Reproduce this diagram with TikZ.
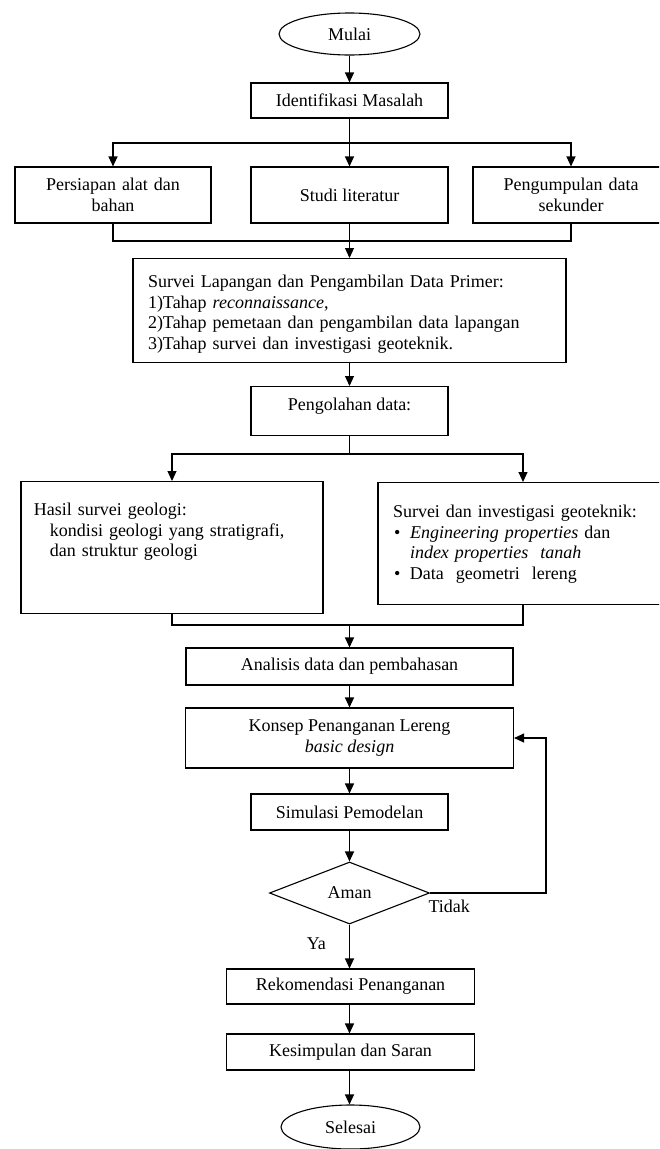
\documentclass[tikz,border=0pt]{standalone}
\usepackage{fontspec}
\setmainfont{Liberation Serif}
\usetikzlibrary{arrows.meta,shapes.geometric}

\tikzset{
    kotak/.style={draw, line width=1.1pt, rectangle, inner sep=2pt, align=center},
    ujung/.style={draw, line width=1.1pt, ellipse, inner sep=0pt},
    pilih/.style={draw, line width=1.1pt, diamond, inner sep=0pt},
    garis/.style={line width=1.1pt, black},
    teks/.style={inner sep=1pt},
    panah/.style={->, garis}
}

\begin{document}
\begin{tikzpicture}[x=1pt, y=-1pt, >={Triangle[length=10pt,width=9pt]},
    font=\fontsize{18}{20.5}\selectfont]
    \useasboundingbox (0,0) rectangle (659,1149);
    \clip (0,0) rectangle (659,1149);

    % Mulai
    \node [ujung, minimum width=141, minimum height=42] (mulai) at (349.5,34) {Mulai};
    \node [kotak, minimum width=197, minimum height=35] (ident) at (349.5,100.5) {Identifikasi Masalah};

    % Tiga cabang
    \node [kotak, minimum width=196, minimum height=56, text width=180] (persiapan) at (113,195) {Persiapan alat dan\\bahan};
    \node [kotak, minimum width=197, minimum height=56] (studi) at (349.5,195) {Studi literatur};
    \node [kotak, minimum width=196, minimum height=56, text width=180] (pengumpulan) at (571,195) {Pengumpulan data\\sekunder};

    \coordinate (bagi1) at (349.5,143);
    \coordinate (gabung1) at (349.5,241);

    \draw [garis] (ident.south) -- (bagi1);
    \draw [panah] (bagi1) -| (persiapan.north);
    \draw [panah] (bagi1) -| (pengumpulan.north);
    \draw [panah] (bagi1) -- (studi.north);
    \draw [garis] (persiapan.south) |- (gabung1) -| (pengumpulan.south);
    \draw [garis] (studi.south) -- (gabung1);

    % Survei lapangan
    \node [kotak, anchor=north, align=left, text width=403, inner xsep=15pt, inner ysep=0pt,
        text height=29pt, text depth=75pt] (survei) at (349.5,258)
        {Survei Lapangan dan Pengambilan Data Primer:\\
        1)Tahap \textit{reconnaissance},\\
        2)Tahap pemetaan dan pengambilan data lapangan\\
        3)Tahap survei dan investigasi geoteknik.};
    \draw [panah] (gabung1) -- (survei.north);

    \node [kotak, anchor=north, minimum width=197, inner ysep=0pt,
        text height=24pt, text depth=25pt] (olah) at (349.5,386) {Pengolahan data:};
    \draw [panah] (survei.south) -- (olah.north);

    % Dua hasil
    \node [kotak, anchor=north, align=left, text width=276, inner xsep=13pt, inner ysep=0pt,
        text height=34pt, text depth=98pt] (hasil) at (172,481)
        {Hasil survei geologi:\\
        \hspace*{16pt}kondisi geologi yang stratigrafi,\\
        \hspace*{16pt}dan struktur geologi};
    \node [kotak, anchor=north, align=left, text width=260, inner xsep=15pt, inner ysep=0pt,
        text height=35pt, text depth=87pt] (geotek) at (523,482)
        {Survei dan investigasi geoteknik:\\
        \makebox[17pt][l]{\hspace*{1pt}\textbullet}\textit{Engineering properties} dan\\
        \hspace*{17pt}\textit{index properties\ \ tanah}\\
        \makebox[17pt][l]{\hspace*{1pt}\textbullet}Data\ \ geometri\ \ lereng};

    \coordinate (bagi2) at (349.5,454);
    \coordinate (gabung2) at (349.5,625);

    \draw [garis] (olah.south) -- (bagi2);
    \draw [panah] (bagi2) -| (hasil.north);
    \draw [panah] (bagi2) -| (geotek.north);
    \draw [garis] (hasil.south) |- (gabung2) -| (geotek.south);

    % Analisis sampai selesai
    \node [kotak, minimum width=327, minimum height=37] (analisis) at (349.5,666.5) {Analisis data dan pembahasan};
    \node [kotak, minimum width=328, minimum height=60] (konsep) at (349.5,738) {Konsep Penanganan Lereng\\\textit{basic design}};
    \node [kotak, minimum width=197, minimum height=36] (simulasi) at (349.5,812) {Simulasi Pemodelan};
    \node [pilih, minimum width=160, minimum height=62] (aman) at (349.5,893) {Aman};
    \node [kotak, minimum width=248, minimum height=35] (rekom) at (350.5,986.5) {Rekomendasi Penanganan};
    \node [kotak, minimum width=248, minimum height=36] (simpul) at (350.5,1052) {Kesimpulan dan Saran};
    \node [ujung, minimum width=139, minimum height=44] (selesai) at (350.5,1127) {Selesai};

    \coordinate (balik) at (546,893);

    \draw [panah] (mulai.south) -- (ident.north);
    \draw [panah] (gabung2) -- (analisis.north);
    \draw [panah] (analisis.south) -- (konsep.north);
    \draw [panah] (konsep.south) -- (simulasi.north);
    \draw [panah] (simulasi.south) -- (aman.north);
    \draw [panah] (aman.east) node [teks, anchor=north west, xshift=-3pt, yshift=-5pt] (tidak) {Tidak}
        -- (balik) |- (konsep.east);
    \draw [panah] (aman.south) node [teks, anchor=north east, xshift=-22pt, yshift=-12pt] (ya) {Ya}
        -- (aman.south |- rekom.north);
    \draw [panah] (rekom.south -| aman.south) -- (aman.south |- simpul.north);
    \draw [panah] (simpul.south -| aman.south) -- (aman.south |- selesai.north);
\end{tikzpicture}
\end{document}
